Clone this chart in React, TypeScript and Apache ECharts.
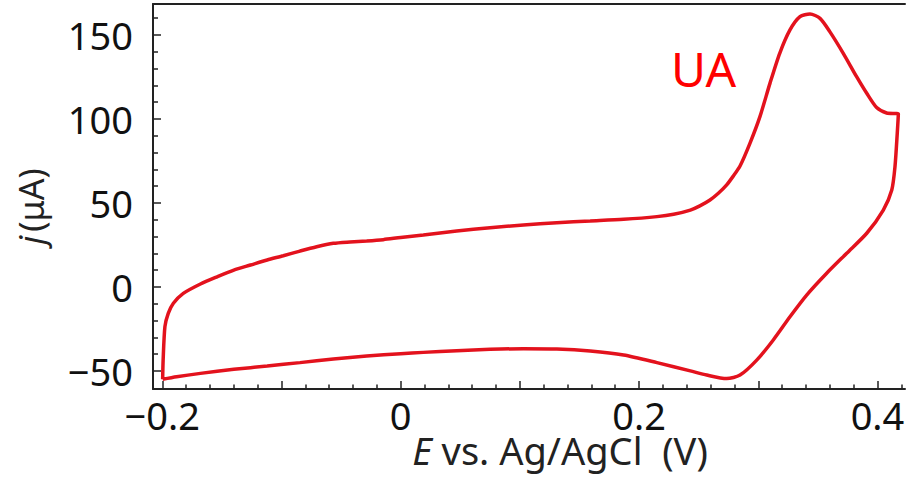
import React, { useEffect, useRef } from 'react';
import * as echarts from 'echarts';

// Forward (anodic) scan: E (V) and j (µA)
const forwardE = [
  -0.1997, -0.1993, -0.1978, -0.195, -0.1907, -0.1824, -0.168, -0.154, -0.14, -0.126,
  -0.112, -0.0985, -0.0845, -0.0705, -0.0565, -0.0425, -0.0285, -0.0146, 0, 0.019,
  0.047, 0.075, 0.103, 0.131, 0.159, 0.187, 0.215, 0.229, 0.243, 0.251,
  0.2595, 0.2665, 0.2735, 0.279, 0.2847, 0.293, 0.3014, 0.3098, 0.318, 0.3266,
  0.335, 0.3434, 0.3518, 0.36, 0.3713, 0.3825, 0.391, 0.3993, 0.4077, 0.4175,
];
const forwardJ = [
  -54.9, -43.5, -23.6, -15.7, -9.7, -3.8, 1.8, 6.1, 10.1, 13.1,
  16.1, 18.6, 21.4, 24.0, 26.0, 26.8, 27.4, 28.2, 29.5, 31.0,
  33.3, 35.3, 36.9, 38.3, 39.3, 40.3, 41.9, 43.3, 45.8, 48.3,
  51.8, 55.8, 60.8, 66.0, 72.0, 85.5, 101.4, 121.2, 139.1, 153.0,
  160.9, 162.5, 159.9, 152.0, 139.1, 125.2, 115.3, 106.8, 103.6, 103.0,
];

// Reverse (cathodic) scan
const reverseE = [
  0.4166, 0.4147, 0.412, 0.4049, 0.391, 0.3742, 0.3574, 0.3406, 0.3266, 0.3126,
  0.2987, 0.2847, 0.2735, 0.2567, 0.243, 0.215, 0.187, 0.159, 0.131, 0.103,
  0.075, 0.047, 0.019, 0, -0.0285, -0.0565, -0.0845, -0.112, -0.14, -0.168,
  -0.188, -0.1997,
];
const reverseJ = [
  91.5, 71.6, 57.7, 45.8, 32.0, 20.1, 8.2, -4.8, -17.7, -31.5,
  -43.5, -52.4, -54.5, -52.4, -49.9, -45.0, -40.5, -38.1, -36.9, -36.7,
  -37.1, -37.9, -38.9, -39.7, -41.1, -42.9, -45.0, -47.0, -49.0, -51.4,
  -53.4, -54.9,
];

// Axis ranges and ticks
const xRange = [-0.2078, 0.4231];
const yRange = [-60.7, 168.45];
const xMajorTicks = [-0.2, -0.1, 0, 0.1, 0.2, 0.3, 0.4];
const xMinorTicks = [
  -0.18, -0.16, -0.14, -0.12, -0.08, -0.06, -0.04, -0.02, 0.02, 0.04, 0.06, 0.08,
  0.12, 0.14, 0.16, 0.18, 0.22, 0.24, 0.26, 0.28, 0.32, 0.34, 0.36, 0.38, 0.42,
];
const xTickLabels = [-0.2, 0, 0.2, 0.4];
const yMajorTicks = [-50, 0, 50, 100, 150];
const yMinorTicks = [
  -40, -30, -20, -10, 10, 20, 30, 40, 60, 70, 80, 90, 110, 120, 130, 140, 160,
];
const yTickLabels = [-50, 0, 50, 100, 150];

const FONT = "'Noto Sans', 'Open Sans', sans-serif";
const AXIS_COLOR = '#222222';
const TEXT_COLOR = '#111111';
const CURVE_COLOR = '#e3121d';

const fmt = (v: number) => String(v).replace('-', '\u2212');

export default function App() {
  const ref = useRef<HTMLDivElement>(null);

  useEffect(() => {
    if (!ref.current) return;
    const chart = echarts.init(ref.current, null, { renderer: 'svg' });

    const data: number[][] = [
      ...forwardE.map((e, i) => [e, forwardJ[i]]),
      ...reverseE.map((e, i) => [e, reverseJ[i]]),
    ];

    const baseX = {
      type: 'value',
      min: xRange[0],
      max: xRange[1],
      splitLine: { show: false },
    };
    const baseY = {
      type: 'value',
      min: yRange[0],
      max: yRange[1],
      splitLine: { show: false },
    };

    chart.setOption({
      animation: false,
      backgroundColor: '#ffffff',
      grid: { left: 153, right: 1, top: 4, bottom: 90, outerBoundsMode: 'none' },
      xAxis: [
        {
          ...baseX,
          position: 'bottom',
          axisLine: { show: true, onZero: false, lineStyle: { color: AXIS_COLOR, width: 2 } },
          axisTick: {
            show: true,
            inside: true,
            length: 8,
            customValues: xMajorTicks,
            lineStyle: { color: AXIS_COLOR, width: 1.5 },
          },
          axisLabel: {
            show: true,
            customValues: xTickLabels,
            formatter: fmt,
            margin: 13,
            fontSize: 38,
            lineHeight: 26,
            fontFamily: FONT,
            color: TEXT_COLOR,
          },
          name: '{i|E} vs. Ag/AgCl  (V)',
          nameLocation: 'middle',
          nameGap: 46,
          nameMoveOverlap: false,
          nameTextStyle: {
            fontSize: 38,
            lineHeight: 30,
            fontFamily: FONT,
            color: '#222222',
            padding: [0, 0, 0, 62],
            rich: {
              i: { fontSize: 38, lineHeight: 30, fontFamily: FONT, fontStyle: 'italic', color: '#222222' },
            },
          },
        },
        {
          ...baseX,
          position: 'bottom',
          axisLine: { show: false, onZero: false },
          axisTick: {
            show: true,
            inside: true,
            length: 4.5,
            customValues: xMinorTicks,
            lineStyle: { color: AXIS_COLOR, width: 1.5 },
          },
          axisLabel: { show: false },
        },
        {
          ...baseX,
          position: 'top',
          axisLine: { show: true, onZero: false, lineStyle: { color: AXIS_COLOR, width: 2 } },
          axisTick: { show: false },
          axisLabel: { show: false },
        },
      ],
      yAxis: [
        {
          ...baseY,
          position: 'left',
          axisLine: { show: true, onZero: false, lineStyle: { color: AXIS_COLOR, width: 2 } },
          axisTick: {
            show: true,
            inside: true,
            length: 8,
            customValues: yMajorTicks,
            lineStyle: { color: AXIS_COLOR, width: 1.5 },
          },
          axisLabel: {
            show: true,
            customValues: yTickLabels,
            formatter: fmt,
            margin: 20,
            fontSize: 38,
            fontFamily: FONT,
            color: TEXT_COLOR,
          },
          name: '{i|j}(μA)',
          nameLocation: 'middle',
          nameGap: 105,
          nameMoveOverlap: false,
          nameTextStyle: {
            fontSize: 34,
            fontFamily: FONT,
            color: '#222222',
            padding: [0, 20, 0, 0],
            rich: {
              i: { fontSize: 34, fontFamily: FONT, fontStyle: 'italic', color: '#222222', padding: [0, 4, 0, 0] },
            },
          },
        },
        {
          ...baseY,
          position: 'left',
          axisLine: { show: false, onZero: false },
          axisTick: {
            show: true,
            inside: true,
            length: 5,
            customValues: yMinorTicks,
            lineStyle: { color: AXIS_COLOR, width: 1.5 },
          },
          axisLabel: { show: false },
        },
      ],
      graphic: [
        {
          type: 'text',
          x: 671,
          y: 68,
          style: {
            text: 'UA',
            fill: '#ff0000',
            fontSize: 48,
            fontFamily: FONT,
            align: 'left',
            verticalAlign: 'middle',
          },
        },
      ],
      series: [
        {
          type: 'line',
          name: 'UA',
          xAxisIndex: 0,
          yAxisIndex: 0,
          data,
          symbol: 'none',
          showSymbol: false,
          smooth: 0.25,
          clip: false,
          lineStyle: { color: CURVE_COLOR, width: 3.5 },
        },
      ],
    });

    return () => chart.dispose();
  }, []);

  return (
    <div
      ref={ref}
      style={{ position: 'fixed', left: 0, top: 0, width: 906, height: 479 }}
    />
  );
}
